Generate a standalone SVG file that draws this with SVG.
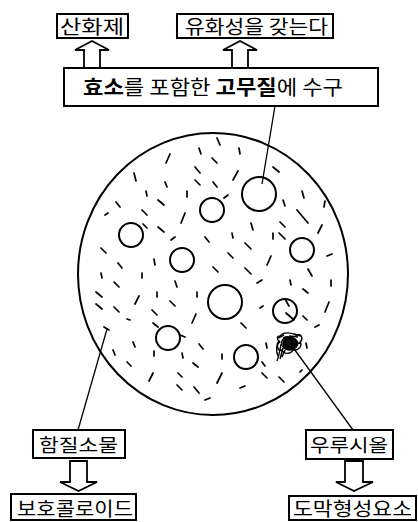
<svg xmlns="http://www.w3.org/2000/svg" width="418" height="522" viewBox="0 0 418 522">
  <style>
    .box { fill: #fff; stroke: #000; stroke-width: 2; }
    .lbl { font-family: "Noto Sans CJK KR", "Noto Sans", sans-serif; fill: #000; }
    .blk { fill: #fff; stroke: #000; stroke-width: 1.8; stroke-linejoin: miter; }
    .lead { fill: none; stroke: #000; stroke-width: 1.3; }
    .rim { fill: none; stroke: #000; stroke-width: 2; }
    .drop { fill: none; stroke: #000; stroke-width: 2; }
    .tick { stroke: #000; stroke-width: 1.7; stroke-linecap: round; }
  </style>
  <rect width="418" height="522" fill="#fff"/>

  <!-- particle: rubber matrix with dispersed droplets -->
  <g id="particle">
    <ellipse class="rim" cx="213" cy="274" rx="135" ry="141"/>
    <g id="droplets">
      <circle class="drop" cx="259" cy="194" r="17"/>
      <circle class="drop" cx="212" cy="210" r="12"/>
      <circle class="drop" cx="131" cy="235" r="12"/>
      <circle class="drop" cx="182" cy="260" r="12"/>
      <circle class="drop" cx="302" cy="250" r="12"/>
      <circle class="drop" cx="225" cy="302" r="17"/>
      <circle class="drop" cx="285" cy="311" r="12"/>
      <circle class="drop" cx="168" cy="338" r="12"/>
      <circle class="drop" cx="246" cy="357" r="12"/>
      <path class="tick" d="M285 299 L289 306 M286 313 L294 320"/>
    </g>
    <g id="matrix-ticks">
      <path class="tick" d="
        M217 138 L220 145 M199 148 L201 154 M239 148 L240 154 M170 154 L166 163
        M212 158 L217 163 M195 167 L200 173 M238 171 L233 180 M273 167 L279 172
        M134 173 L136 181 M165 182 L167 187 M195 180 L200 185 M213 182 L217 187
        M228 195 L224 198 M146 191 L147 196 M187 191 L187 197 M116 202 L120 207
        M158 200 L164 205 M302 191 L304 198 M283 200 L285 206 M325 201 L324 207
        M105 215 L108 213 M142 210 L147 215 M185 213 L181 223 M297 210 L308 223
        M143 224 L147 228 M158 227 L164 232 M251 223 L253 230 M280 222 L285 227
        M322 225 L318 233 M175 237 L171 240 M205 237 L209 242 M232 233 L233 238
        M273 233 L273 239 M279 233 L285 239 M245 243 L251 249 M101 248 L106 253
        M228 253 L233 258 M154 259 L155 265 M271 256 L267 265 M327 256 L332 254
        M118 263 L122 268 M213 267 L218 272 M245 268 L251 274 M308 269 L312 276
        M101 273 L102 278 M142 273 L142 278 M114 282 L119 287 M175 281 L177 287
        M257 283 L262 280 M290 280 L291 285 M331 280 L331 286 M96 292 L102 297
        M157 292 L157 297 M197 292 L197 297 M303 289 L308 293 M139 296 L135 304
        M170 301 L175 306 M96 304 L102 309 M114 307 L119 312 M263 306 L260 308
        M329 302 L325 312 M152 310 L157 315 M196 314 L192 323 M127 319 L130 320
        M153 323 L158 327 M241 323 L246 328 M303 316 L307 320 M104 327 L109 330
        M315 327 L319 325 M180 335 L185 337 M133 342 L135 347 M113 350 L115 355
        M154 351 L154 356 M199 344 L203 349 M182 353 L183 358 M222 354 L222 359
        M127 362 L131 366 M193 363 L198 367 M178 373 L182 377 M153 373 L149 381
        M222 373 L217 383 M177 385 L182 390 M194 387 L199 393 M240 388 L245 386
        M205 400 L210 398 M262 373 L267 378 M279 377 L284 382 M266 343 L267 348
        M306 343 L307 348 M300 372 L302 370 M262 362 L265 366
      "/>
    </g>
    <!-- tangled urushiol cluster -->
    <g id="urushiol-cluster" fill="none" stroke="#000" stroke-width="1.4" stroke-linejoin="round">
      <path d="M286 339 C 291 336, 297 339, 297 343 C 298 348, 291 351, 286 349 C 282 347, 282 341, 286 339 Z" fill="#111"/>
      <path d="M280 336 C 284 331, 292 333, 296 335 C 301 333, 304 338, 300 342 C 303 346, 298 351, 293 350 C 291 354, 284 355, 282 350 C 277 352, 276 344, 280 342 C 276 339, 277 336, 280 336 Z"/>
      <path d="M283 338 C 288 335, 296 338, 298 343 C 297 349, 289 352, 284 348 C 280 345, 281 339, 286 338 C 292 337, 295 343, 290 347"/>
      <path d="M281 344 C 280 350, 279 356, 277 361 M283 348 L280 359 M279 340 C 276 345, 276 352, 278 356 M285 350 L282 357"/>
      <path d="M289 336 L298 337 M292 345 L300 343 M284 344 L292 348 M278 338 L284 335 M294 334 L301 336" stroke-width="1.6"/>
    </g>
  </g>

  <!-- top: rubber-containing enzyme box and its effects -->
  <g id="node-oxidant">
    <rect class="box" x="57" y="14" width="71" height="24"/>
    <text class="lbl" x="60" y="34" font-size="19" textLength="64" lengthAdjust="spacingAndGlyphs">산화제</text>
  </g>
  <g id="node-emulsifying">
    <rect class="box" x="177" y="14" width="156" height="24"/>
    <text class="lbl" x="185" y="34" font-size="19" textLength="143" lengthAdjust="spacingAndGlyphs">유화성을 갖는다</text>
  </g>
  <g id="node-gum">
    <rect class="box" x="64" y="68" width="314" height="38"/>
    <text class="lbl" x="83" y="95" font-size="20" textLength="260" lengthAdjust="spacingAndGlyphs"><tspan font-weight="bold">효소</tspan>를 포함한 <tspan font-weight="bold">고무질</tspan>에 수구</text>
  </g>

  <!-- bottom: components and their roles -->
  <g id="node-nitrogen">
    <rect class="box" x="33" y="430" width="92" height="28"/>
    <text class="lbl" x="39" y="452" font-size="18" textLength="79" lengthAdjust="spacingAndGlyphs">함질소물</text>
  </g>
  <g id="node-colloid">
    <rect class="box" x="11" y="494" width="125" height="26"/>
    <text class="lbl" x="17" y="516" font-size="19" textLength="116" lengthAdjust="spacingAndGlyphs">보호콜로이드</text>
  </g>
  <g id="node-urushiol">
    <rect class="box" x="306" y="430" width="87" height="29"/>
    <text class="lbl" x="310" y="452" font-size="18" textLength="78" lengthAdjust="spacingAndGlyphs">우루시올</text>
  </g>
  <g id="node-film">
    <rect class="box" x="289" y="496" width="127" height="24"/>
    <text class="lbl" x="293" y="516" font-size="19" textLength="119" lengthAdjust="spacingAndGlyphs">도막형성요소</text>
  </g>

  <g id="connectors">
    <!-- hollow block arrows -->
    <polygon class="blk" points="84,68 84,50 75,50 92,41 109,50 100,50 100,68"/>
    <polygon class="blk" points="232,68 232,50 223,50 240,41 257,50 248,50 248,68"/>
    <polygon class="blk" points="70,461 87,461 87,482 97,482 78.5,491 60,482 70,482"/>
    <polygon class="blk" points="345,461 363,461 363,482 373,482 354,491 336,482 345,482"/>
    <!-- leader lines -->
    <line class="lead" x1="275" y1="106" x2="262" y2="184"/>
    <line class="lead" x1="107" y1="329" x2="78" y2="430"/>
    <line class="lead" x1="292" y1="346" x2="353" y2="430"/>
  </g>
</svg>
